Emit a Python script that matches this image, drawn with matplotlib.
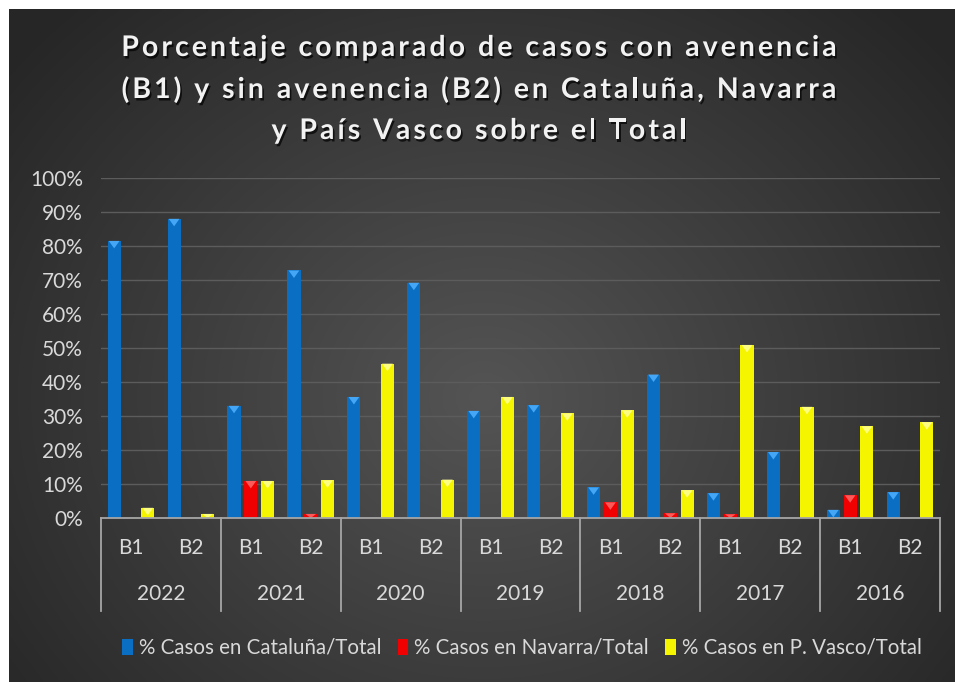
import numpy as np
import matplotlib
matplotlib.use("Agg")
import matplotlib.pyplot as plt
from matplotlib import patheffects as pe
from matplotlib.patches import Polygon
from matplotlib.font_manager import FontProperties

# ---------------- data ----------------
years = ["2022", "2021", "2020", "2019", "2018", "2017", "2016"]
subcats = ["B1", "B2"]
series_names = ["% Casos en Cataluña/Total", "% Casos en Navarra/Total", "% Casos en P. Vasco/Total"]
cataluna = [81.5, 88.0, 33.0, 72.8, 35.6, 69.2, 31.5, 33.2, 9.0, 42.2, 7.3, 19.4, 2.4, 7.6]
navarra  = [0.0, 0.0, 10.9, 1.2, 0.0, 0.0, 0.0, 0.0, 4.6, 1.4, 1.1, 0.0, 6.7, 0.0]
pvasco   = [3.0, 1.2, 10.9, 11.1, 45.4, 11.3, 35.6, 30.8, 31.7, 8.2, 50.9, 32.7, 27.0, 28.2]
title_lines = ["Porcentaje comparado de casos con avenencia",
               "(B1) y sin avenencia (B2) en Cataluña, Navarra",
               "y País Vasco sobre el Total"]
yticks = [0, 10, 20, 30, 40, 50, 60, 70, 80, 90, 100]

colors = ["#0a6fc2", "#f00000", "#f5f500"]
tops = ["#4fb0ff", "#ff6a6a", "#ffff9a"]
txt = "#d9d9d9"

W, H, DPI = 955, 682, 100
fig = plt.figure(figsize=(W / DPI, H / DPI), dpi=DPI)
fig.patch.set_facecolor("white")

# background panel with radial gradient
bg = fig.add_axes([9 / W, 0, 1 - 9 / W, 1 - 9 / H])
bg.set_axis_off()
yy, xx = np.mgrid[0:200, 0:280]
cx, cy = 140, 115
r = np.sqrt(((xx - cx) / 170.0) ** 2 + ((yy - cy) / 150.0) ** 2)
v = np.clip(0.33 - 0.17 * r, 0.15, 0.33)
img = np.dstack([v, v, v])
bg.imshow(img, aspect="auto", extent=[0, 1, 0, 1], interpolation="bicubic")
bg.set_xlim(0, 1)
bg.set_ylim(0, 1)

# plot axes
L, R, T, B = 101, 940, 178, 518
ax = fig.add_axes([L / W, 1 - B / H, (R - L) / W, (B - T) / H])
ax.set_facecolor("none")
n = len(cataluna)
x = np.arange(n)
bw = 0.22
off = 0.28
for i, (vals, c, tc) in enumerate(zip([cataluna, navarra, pvasco], colors, tops)):
    xs = x + (i - 1) * off
    ax.bar(xs, vals, width=bw, color=c, zorder=3, edgecolor="none", label=series_names[i])
    # bevel highlight triangle at the top of each bar
    for xb, hv in zip(xs, vals):
        if hv <= 0:
            continue
        th = min(2.2, hv)
        tri = Polygon([[xb - bw / 2 + 0.02, hv], [xb + bw / 2 - 0.02, hv], [xb, hv - th]],
                      closed=True, facecolor=tc, edgecolor="none", zorder=4, alpha=0.85)
        ax.add_patch(tri)

ax.set_xlim(-0.5, n - 0.5)
ax.set_ylim(0, 100)
ax.set_yticks(yticks)
ax.set_yticklabels([f"{t}%" for t in yticks], fontsize=15, color=txt, family="Lato")
ax.tick_params(axis="y", length=0, pad=13)
ax.yaxis.grid(True, color="#5c5c5c", linewidth=1.0, zorder=0)
ax.set_axisbelow(True)
ax.set_xticks([])
for s in ["top", "right", "left"]:
    ax.spines[s].set_visible(False)
ax.spines["bottom"].set_color("#a6a6a6")
ax.spines["bottom"].set_linewidth(1.3)
ax.spines["bottom"].set_zorder(5)

# multi-level category labels
trans = ax.get_xaxis_transform()
sep_bottom = -(611 - B) / (B - T)
for k in range(len(years) + 1):
    xb = k * 2 - 0.5
    ax.plot([xb, xb], [0, sep_bottom], transform=trans, clip_on=False, color="#a6a6a6", lw=1.3)
for k, yr in enumerate(years):
    for j, sc in enumerate(subcats):
        ax.text(k * 2 + j, -(548 - B) / (B - T), sc, transform=trans, ha="center", va="center",
                fontsize=15, color=txt, family="Lato")
    ax.text(k * 2 + 0.5, -(594 - B) / (B - T), yr, transform=trans, ha="center", va="center",
            fontsize=15, color=txt, family="Lato")

# legend
leg = fig.legend(loc="center", bbox_to_anchor=(522 / W, 1 - 648 / H), ncol=3, frameon=False,
                 prop={"family": "Lato", "size": 14.8}, handlelength=0.5, handleheight=0.8,
                 handletextpad=0.3, columnspacing=0.8, borderaxespad=0)
for t in leg.get_texts():
    t.set_color(txt)

# title with letter spacing
fig.canvas.draw()
renderer = fig.canvas.get_renderer()
fp = FontProperties(family="Lato", weight="bold", size=20.5)
spacing = 3.0
line_y = [H - 48, H - 90, H - 131]
shadow = [pe.SimplePatchShadow(offset=(1.2, -1.8), shadow_rgbFace="black", alpha=0.7), pe.Normal()]


def wid(s):
    if not s:
        return 0.0
    w, _, _ = renderer.get_text_width_height_descent(s + "|", fp, ismath=False)
    w2, _, _ = renderer.get_text_width_height_descent("|", fp, ismath=False)
    return w - w2


cx_title = 479
for line, yl in zip(title_lines, line_y):
    total = wid(line) + spacing * (len(line) - 1)
    x0 = cx_title - total / 2
    for i, ch in enumerate(line):
        if ch == " ":
            continue
        xp = x0 + wid(line[:i]) + spacing * i
        fig.text(xp / W, yl / H, ch, fontproperties=fp, color="#f2f2f2", ha="left", va="center",
                 path_effects=shadow)

fig.savefig("out.png", dpi=DPI, facecolor="white")
